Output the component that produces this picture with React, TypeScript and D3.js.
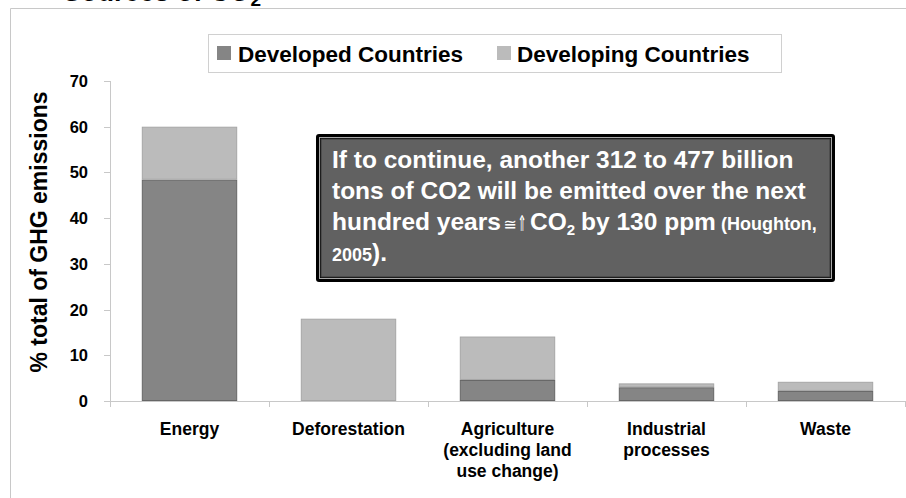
import React from "react";
import * as d3 from "d3";

const categories = ["Energy", "Deforestation", "Agriculture (excluding land use change)", "Industrial processes", "Waste"];
const categoryLines = [["Energy"], ["Deforestation"], ["Agriculture", "(excluding land", "use change)"], ["Industrial", "processes"], ["Waste"]];
const developed = [48.4, 0, 4.6, 3.0, 2.2];
const developing = [11.6, 18.0, 9.5, 0.85, 2.0];
const yTicks = [0, 10, 20, 30, 40, 50, 60, 70];
const seriesKeys = ["developed", "developing"];
const seriesNames = ["Developed Countries", "Developing Countries"];

const W = 906;
const H = 498;
const FONT = "'Liberation Sans', Arial, Helvetica, sans-serif";
const SYM = "'DejaVu Sans', sans-serif";
const fills = ["#858585", "#bbbbbb"];
const strokes = ["#666666", "#a6a6a6"];

export default function App() {
  const rows = categories.map((c, i) => ({ cat: c, developed: developed[i], developing: developing[i] }));
  const stacked = d3.stack<any>().keys(seriesKeys)(rows);
  const x = d3.scaleBand<string>().domain(categories).range([110, 905]).paddingInner(0.4).paddingOuter(0.2);
  const y = d3.scaleLinear().domain([0, 70]).range([401, 81]);
  const step = x.step();
  const boundaries = d3.range(categories.length + 1).map((i) => 110 + i * step);

  return (
    <svg width={W} height={H} style={{ position: "absolute", left: 0, top: 0, background: "#fff" }} fontFamily={FONT}>
      {/* cut-off title */}
      <text x={63} y={1} fontSize={27} fontWeight="bold" fill="#000">
        Sources of CO<tspan fontSize={19} dy={4.5}>2</tspan>
      </text>
      {/* outer frame */}
      <path d={`M10.5,${H} V8.5 H${W}`} fill="none" stroke="#c8c8c8" strokeWidth={1} />

      {/* legend */}
      <rect x={208.5} y={34.5} width={573} height={38} fill="#fff" stroke="#d0d0d0" />
      {seriesNames.map((n, i) => (
        <g key={n}>
          <rect x={[217, 497][i]} y={46} width={14} height={14} fill={fills[i]} />
          <text x={[238, 517][i]} y={62} fontSize={22.5} fontWeight="bold" fill="#000">{n}</text>
        </g>
      ))}

      {/* y axis */}
      <line x1={110.5} x2={110.5} y1={y(70)} y2={y(0)} stroke="#c8c8c8" />
      {yTicks.map((t) => (
        <g key={t}>
          <line x1={104} x2={110} y1={Math.round(y(t)) + 0.5} y2={Math.round(y(t)) + 0.5} stroke="#c8c8c8" />
          <text x={88} y={y(t)} dy="0.36em" textAnchor="end" fontSize={16.5} fontWeight="bold" fill="#000">{t}</text>
        </g>
      ))}
      <text transform={`translate(47,232) rotate(-90)`} textAnchor="middle" fontSize={23} fontWeight="bold" fill="#000">
        % total of GHG emissions
      </text>

      {/* bars */}
      {stacked.map((s, si) => (
        <g key={s.key}>
          {s.map((d, i) =>
            d[1] - d[0] > 0 ? (
              <rect
                key={i}
                x={x(categories[i])! + 0.5}
                y={y(d[1]) + 0.5}
                width={x.bandwidth() - 1}
                height={y(d[0]) - y(d[1]) - 1}
                fill={fills[si]}
                stroke={strokes[si]}
                strokeWidth={1}
              />
            ) : null
          )}
        </g>
      ))}

      {/* x axis */}
      <line x1={104} x2={905} y1={401.5} y2={401.5} stroke="#c8c8c8" />
      {boundaries.map((b, i) => (
        <line key={i} x1={Math.round(b) + 0.5} x2={Math.round(b) + 0.5} y1={401} y2={407} stroke="#c8c8c8" />
      ))}
      {categories.map((c, i) => (
        <text key={c} x={x(c)! + x.bandwidth() / 2} y={435} textAnchor="middle" fontSize={17.5} fontWeight="bold" fill="#000">
          {categoryLines[i].map((l, li) => (
            <tspan key={li} x={x(c)! + x.bandwidth() / 2} dy={li === 0 ? 0 : 21}>{l}</tspan>
          ))}
        </text>
      ))}

      {/* annotation box */}
      <rect x={316} y={134} width={519} height={148} rx={3} fill="#000" />
      <rect x={319.5} y={137.5} width={512} height={141} fill="none" stroke="#a8a8a8" strokeWidth={1} />
      <rect x={321} y={139} width={509} height={138} fill="#616161" stroke="#3a3a3a" strokeWidth={1} />
      <g fill="#fff" fontWeight="bold" fontSize={24.5}>
        <text x={332} y={168}>If to continue, another 312 to 477 billion</text>
        <text x={332} y={199}>tons of CO2 will be emitted over the next</text>
        <text x={332} y={230}>hundred years</text>
        <text x={510} y={229.5} textAnchor="middle" fontFamily={SYM} fontWeight="normal" fontSize={16}>≅</text>
        <text transform="translate(522,230.5) scale(0.5,1)" textAnchor="middle" fontFamily={SYM} fontWeight="normal" fontSize={22}>⇑</text>
        <text x={530} y={230}>
          <tspan>CO</tspan>
          <tspan fontSize={15} dy={5}>2</tspan>
          <tspan dy={-5} dx={6}>by 130 ppm</tspan>
          <tspan dx={5} fontSize={18}>(Houghton,</tspan>
        </text>
        <text x={332} y={261}>
          <tspan fontSize={18}>2005</tspan>).
        </text>
      </g>
    </svg>
  );
}
